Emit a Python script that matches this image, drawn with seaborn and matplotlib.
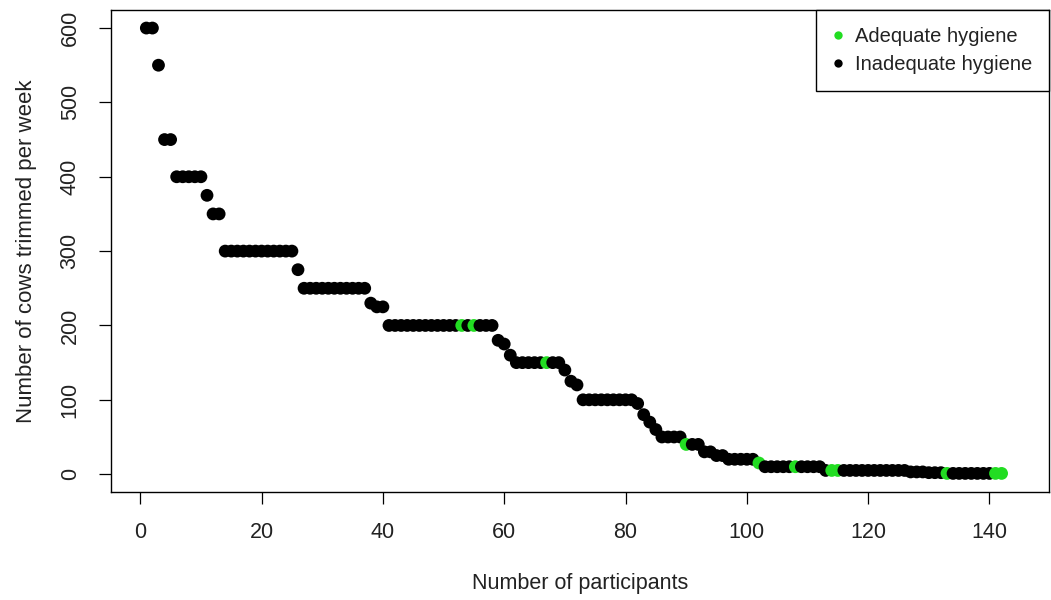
import numpy as np
import pandas as pd
import matplotlib
matplotlib.use("Agg")
import matplotlib.pyplot as plt
from matplotlib.lines import Line2D
import seaborn as sns

# Weekly trimming workload of each participant, sorted from largest to smallest
cows_per_week = [
    600, 600, 550, 450, 450, 400, 400, 400, 400, 400,
    375, 350, 350, 300, 300, 300, 300, 300, 300, 300,
    300, 300, 300, 300, 300, 275, 250, 250, 250, 250,
    250, 250, 250, 250, 250, 250, 250, 230, 225, 225,
    200, 200, 200, 200, 200, 200, 200, 200, 200, 200,
    200, 200, 200, 200, 200, 200, 200, 200, 180, 175,
    160, 150, 150, 150, 150, 150, 150, 150, 150, 140,
    125, 120, 100, 100, 100, 100, 100, 100, 100, 100,
    100, 95, 80, 70, 60, 50, 50, 50, 50, 40,
    40, 40, 30, 30, 25, 25, 20, 20, 20, 20,
    20, 15, 10, 10, 10, 10, 10, 10, 10, 10,
    10, 10, 5, 5, 5, 5, 5, 5, 5, 5,
    5, 5, 5, 5, 5, 5, 3, 3, 3, 2,
    2, 2, 1, 1, 1, 1, 1, 1, 1, 1,
    1, 1,
]

# Participants whose trimming hygiene was rated adequate
adequate_participants = [53, 55, 67, 90, 102, 108, 114, 115, 133, 141, 142]

labels = ["Adequate hygiene", "Inadequate hygiene"]
colors = {"Adequate hygiene": "#22DD22", "Inadequate hygiene": "#000000"}

participant = np.arange(1, len(cows_per_week) + 1)
df = pd.DataFrame({
    "participant": participant,
    "cows": cows_per_week,
    "hygiene": [labels[0] if p in adequate_participants else labels[1] for p in participant],
})

sns.set_theme(style="white")
plt.rcParams["font.family"] = ["Liberation Sans", "DejaVu Sans"]

fig = plt.figure(figsize=(10.51, 6.0), dpi=100)
ax = fig.add_axes([0.1052, 0.18, 0.8928, 0.803])

sns.scatterplot(
    data=df, x="participant", y="cows", hue="hygiene",
    hue_order=labels, palette=colors, s=85, linewidth=0,
    ax=ax, legend=False, zorder=3,
)

ax.set_xlim(-4.9, 149.8)
ax.set_ylim(-24, 624)
ax.set_xticks(np.arange(0, 141, 20))
ax.set_yticks(np.arange(0, 601, 100))

for side in ["left", "right", "top", "bottom"]:
    ax.spines[side].set_visible(True)
    ax.spines[side].set_color("black")
    ax.spines[side].set_linewidth(1.0)

ax.tick_params(axis="both", which="major", direction="out", length=8.5,
               width=0.9, color="black", labelsize=15.5, labelcolor="#222222",
               pad=13, bottom=True, left=True)
ax.tick_params(axis="y", labelrotation=90)
for lab in ax.get_yticklabels():
    lab.set_va("center")

ax.set_xlabel("Number of participants", fontsize=15.5, color="#222222", labelpad=22)
ax.set_ylabel("Number of cows trimmed per week", fontsize=16, color="#222222", labelpad=16)
ax.grid(False)

handles = [
    Line2D([], [], linestyle="none", marker="o", markersize=6,
           markerfacecolor=colors[lab], markeredgewidth=0)
    for lab in labels
]
leg = ax.legend(handles, labels, loc="upper right", frameon=True, fancybox=False,
                borderaxespad=0, fontsize=14.5, handlelength=0.45, handletextpad=0.62,
                borderpad=0.85, labelspacing=0.42, labelcolor="#222222")
leg.get_frame().set_edgecolor("black")
leg.get_frame().set_linewidth(1.0)
leg.get_frame().set_alpha(1.0)

fig.savefig("out.png", dpi=100, facecolor="white")
